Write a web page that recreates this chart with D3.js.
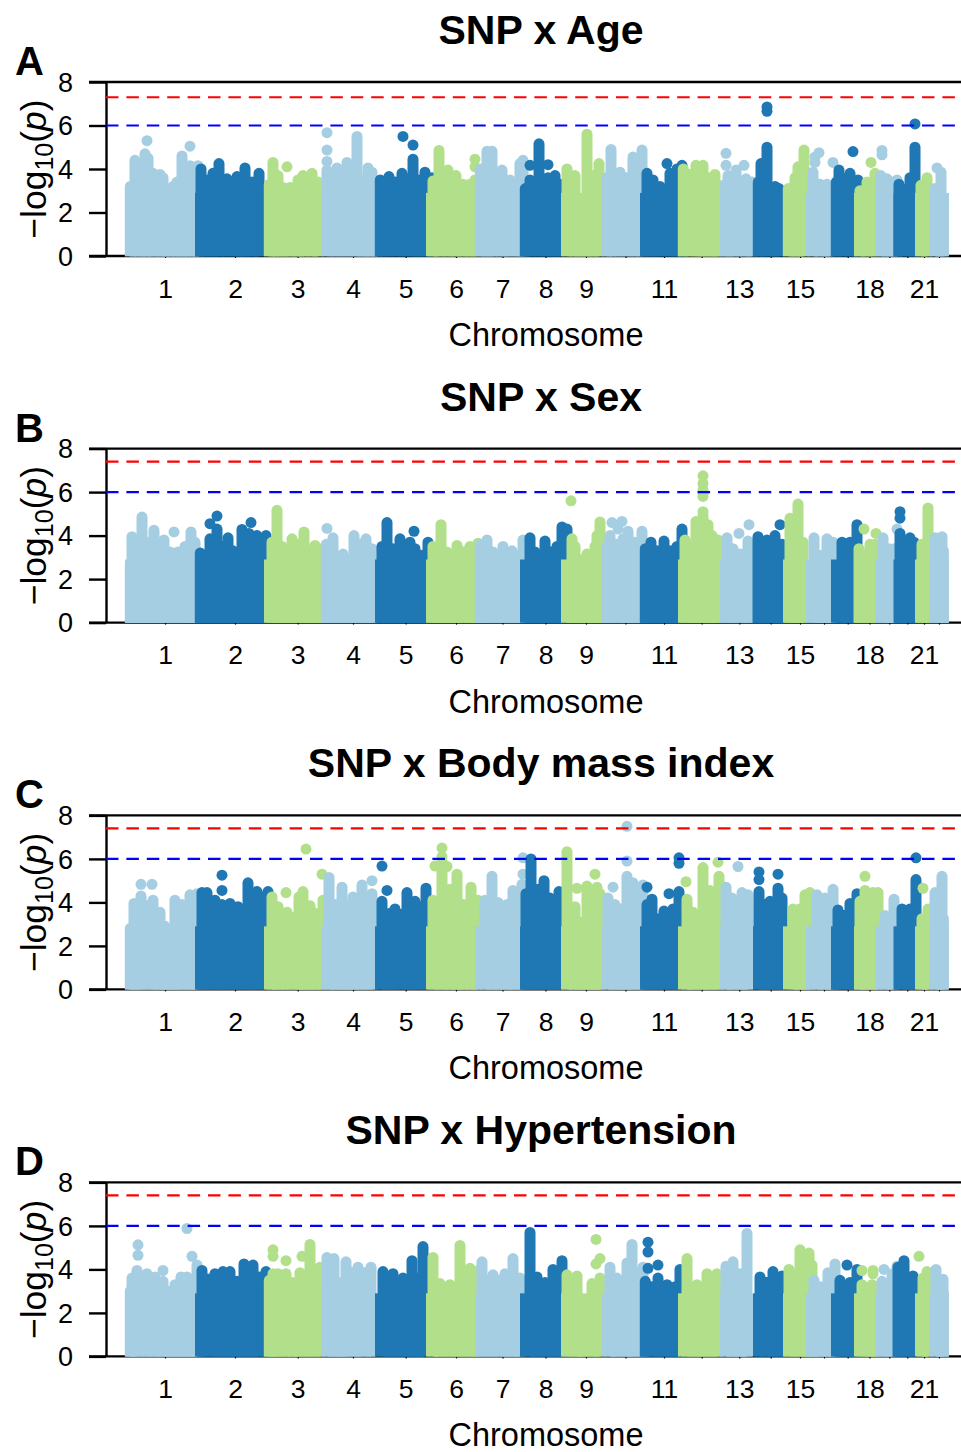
<!DOCTYPE html>
<html><head><meta charset="utf-8">
<script src="https://cdn.jsdelivr.net/npm/d3@7"></script>
<style>html,body{margin:0;padding:0;background:#fff}svg{display:block}text{font-family:"Liberation Sans",Arial,sans-serif;fill:#000}</style>
</head><body><div id="c"></div>
<script>
const titles=["SNP x Age","SNP x Sex","SNP x Body mass index","SNP x Hypertension"];
const letters=["A","B","C","D"];
const yTicks=[0,2,4,6,8];
const redLine=[7.3,7.4,7.4,7.4];
const blueLine=[6,6,6,6];
const chromStart=[0,70,139,196,250,301,350,395,436,476.5,515,553,595,628,658,681,706,729,750.5,768.5,790,804];
const chromEnd=824;
const chromShoulder=2.9;
const chromMid=[40,110,172.7,228,280.7,331,377.5,420.5,461,500.5,539,576.7,614.3,645.7,675,699,722.7,744.5,764.3,782.3,799,814];
const chromLabels=["1","2","3","4","5","6","7","8","9","","11","","13","","15","","","18","","","21",""];

const ageStems=[
[[5.3,3.2],[10,4.4],[15,3.8],[20,4.7],[23,4.5],[28,3.8],[35,3.75],[38,3.6],[43,2.9],[48,3.2],[52,3.4],[57,4.6],[60,3.8],[65,4.15],[69,3.9],[73,4.15]],
[[76,4.0],[82,3.5],[88,3.8],[94,4.25],[102,3.55],[112,3.65],[116,3.3],[120,4.05],[127,3.4],[134,3.8]],
[[144.3,3.3],[148,4.3],[153,3.7],[158,3.15],[165,3.15],[173,3.5],[178,3.7],[187,3.8],[193,3.4]],
[[202,3.95],[212,4.05],[222,4.3],[232,5.5],[238,3.5],[243,4.05],[247,3.85],[252,3.25]],
[[255.3,3.5],[264,3.65],[277,3.8],[288,4.45],[295,3.5],[300,3.85],[307,3.6]],
[[308,3.45],[314,4.85],[323,3.95],[331,3.7],[338,3.3],[345,3.3],[350,3.5]],
[[355.3,4.0],[362,4.82],[367,4.82],[377,3.95],[385,3.5],[395,4.25],[398,4.4]],
[[400.3,3.1],[405,3.5],[414,5.16],[423,3.6],[430,3.7],[435,3.3]],
[[442,4.0],[450,3.7],[455,2.55],[462,5.6],[468,3.7],[474,4.25]],
[[481.8,3.6],[486,4.9],[495,3.85],[508,4.55],[517,4.87]],
[[522,3.8],[528,3.5],[535,3.2],[545,3.8],[552,4.0],[557,4.17]],
[[558.3,4.0],[571,4.17],[578,4.17],[583,3.6],[590,3.75],[593,3.25]],
[[600.3,3.3],[603,3.7],[611,3.95],[621,3.55],[627,3.4]],
[[633.3,3.4],[636,4.25],[642,5.0],[650,3.2],[654,3.1]],
[[663.3,3.1],[670,3.6],[673,4.1],[679,4.87]],
[[688,3.85],[695,3.3],[702,3.3],[705,3.2]],
[[711.3,3.4],[714,3.95],[725,3.8],[733,3.5]],
[[735,3.0],[742,3.4],[750,3.8]],
[[755.8,3.7],[762,3.55],[767,3.4],[772,3.5]],
[[774,3.3],[785,3.6],[790,5.0]],
[[796,3.25],[802,3.6]],
[[810,3.1],[816,3.85],[818.4,2.4]]];
const ageDots=[[1,22,5.3],[1,65,5.05],[3,162,4.1],[4,202,5.67],[4,202,4.87],[4,202,4.35],[5,278,5.5],[5,288,5.1],[6,350,4.45],[6,350,4.1],[8,405,4.17],[8,423,4.2],[11,542,4.25],[13,601,4.72],[13,601,4.17],[13,619,4.17],[14,642,6.65],[14,642,6.85],[16,690,4.55],[16,694,4.75],[16,690,4.3],[16,708,4.3],[17,728,4.8],[18,746,4.3],[19,757,4.85],[19,757,4.65],[20,790,6.07],[22,812,4.05]];

const sexStems=[
[[5.3,2.7],[7,3.95],[12,3.5],[17,4.85],[22,3.7],[29,4.25],[34,3.7],[39,3.8],[45,3.25],[53,3.25],[60,3.5],[66,4.17],[70,3.7]],
[[75.3,3.2],[85,3.85],[92,4.3],[97,3.5],[103,3.9],[108,3.3],[117,4.28],[124,4.1],[132,4.0],[141,4.0]],
[[147,3.7],[152,5.16],[157,3.5],[167,3.85],[179,4.17],[190,3.55],[197,3.4]],
[[201.3,3.6],[208,3.9],[218,3.15],[229,4.0],[241,3.85],[247,3.4]],
[[257,3.5],[262,4.6],[268,3.4],[275,3.85],[285,3.7],[290,3.4],[297,3.1],[303,3.7]],
[[308,3.5],[316,4.5],[322,3.25],[332,3.55],[345,3.5],[353,3.65]],
[[355.3,3.6],[362,3.8],[368,3.25],[378,3.5],[387,3.3],[398,3.8]],
[[405,3.9],[410,3.25],[420,3.75],[432,3.5],[437,4.4],[442,4.3]],
[[447,3.85],[450,3.5],[455,2.9],[462,3.15],[470,3.5],[472,4.0],[475,4.63]],
[[481.8,3.5],[485,4.0],[498,3.85],[503,4.2],[510,3.7],[517,4.2]],
[[520.3,3.4],[526,3.7],[532,3.3],[539,3.75],[546,3.3],[552,3.5],[557,4.3]],
[[560,3.8],[571,4.65],[578,4.9],[583,4.5],[587,4.0],[593,3.8]],
[[602,3.9],[608,3.4],[623,3.75]],
[[633,3.95],[642,3.8],[650,4.0],[657,3.6]],
[[665,4.8],[673,5.45],[678,3.7]],
[[689,3.9],[695,3.1],[702,3.85],[708,3.7]],
[[717,3.7],[725,3.7],[732,4.5]],
[[734,3.4],[745,3.6],[750,3.6]],
[[758,3.9],[764,3.4],[769,3.4]],
[[775,4.1],[785,3.9],[789,3.7]],
[[797,3.6],[803,5.27]],
[[810,3.9],[817,3.95],[818.4,3.3]]];
const sexDots=[[1,49,4.17],[2,85,4.55],[2,92,4.9],[2,126,4.6],[4,202,4.33],[5,289,4.2],[9,446,5.6],[10,487,4.6],[10,497,4.65],[10,493,4.3],[12,578,5.1],[12,578,5.8],[12,578,5.95],[12,578,6.1],[12,578,6.4],[12,578,6.75],[13,614,4.1],[13,624,4.5],[14,655,4.5],[18,739,4.3],[18,751,4.1],[19,772,4.3],[20,775,5.1],[20,775,4.8]];

const bmiStems=[
[[5.3,2.8],[9,3.95],[16,4.3],[28,4.1],[35,3.55],[40,2.9],[45,2.55],[50,4.1],[57,3.9],[65,4.35],[72,4.4]],
[[77,4.45],[82,4.45],[90,4.1],[97,3.9],[105,3.95],[113,3.8],[123,4.9],[132,4.5],[143,4.5]],
[[147,4.25],[153,3.8],[162,3.55],[174,4.25],[178,4.5],[185,3.85],[190,3.5],[198,4.1]],
[[204,5.15],[210,3.9],[217,4.7],[222,3.9],[228,4.25],[237,4.8],[247,4.4]],
[[257,4.05],[265,3.5],[270,3.7],[282,4.45],[290,4.05],[301,4.65]],
[[308,4.1],[317,5.9],[325,4.6],[332,5.3],[338,3.9],[346,4.7],[353,4.1]],
[[360,4.1],[367,5.2],[373,4.0],[382,3.9],[388,4.55],[397,4.83]],
[[401,4.4],[406,6.0],[413,4.6],[419,5.0],[425,4.2],[430,4.1],[434,4.5]],
[[442,6.33],[450,3.8],[455,3.1],[462,4.75],[467,4.2],[472,4.7],[475,4.4]],
[[483,4.2],[490,3.9],[496,3.7],[502,5.2],[508,4.9],[518,4.8]],
[[522,3.9],[527,4.15],[533,3.25],[539,3.6],[548,3.7],[554,4.5]],
[[562,4.15],[568,3.55],[578,5.6],[585,4.55],[594,5.2]],
[[601,4.7],[607,4.2],[617,4.45],[623,4.35]],
[[634,4.5],[640,3.9],[645,4.05],[653,4.65],[657,4.2]],
[[668,3.7],[675,3.7],[680,4.35],[685,4.45]],
[[692,4.35],[700,4.2],[708,4.6]],
[[713,3.65],[725,3.95],[732,4.4]],
[[735,4.05],[740,4.55],[748,4.45],[753,4.45]],
[[760,3.4],[769,4.15]],
[[777,3.7],[785,3.7],[791,5.05]],
[[797,3.25],[803,3.7]],
[[810,4.45],[817,5.2],[818.4,3.25]]];
const bmiDots=[[1,16,4.83],[1,27,4.83],[2,97,5.25],[2,97,4.55],[3,161,4.45],[3,181,6.45],[3,197,5.3],[4,247,5.0],[5,257,5.67],[5,262,4.55],[6,310,5.67],[6,322,5.65],[6,317,6.5],[6,317,6.1],[7,398,6.05],[7,398,5.3],[9,452,4.65],[9,470,5.3],[10,488,4.7],[10,502,7.5],[10,502,5.9],[11,522,4.7],[11,544,4.4],[11,554,6.05],[11,554,5.8],[12,561,4.95],[12,593,5.85],[13,613,5.65],[14,634,5.4],[14,634,5.05],[14,653,5.3],[18,740,5.2],[20,791,6.05],[21,798,4.65]];

const hypStems=[
[[5.3,3.0],[7,3.6],[12,3.95],[22,3.8],[30,3.65],[38,3.45],[45,3.0],[50,3.3],[56,3.65],[62,3.65],[67,3.5],[72,4.2]],
[[77,3.95],[90,3.8],[98,3.9],[105,3.9],[112,3.45],[119,4.25],[128,4.2],[141,3.9]],
[[144.3,3.5],[148,3.8],[153,3.8],[161,3.8],[168,3.4],[175,3.85],[185,5.15],[195,4.1]],
[[202,4.55],[209,4.5],[215,3.4],[221,4.35],[233,4.1],[246,4.1]],
[[258,3.9],[268,3.8],[278,3.6],[287,4.4],[293,3.6],[298,5.05]],
[[308,4.55],[315,3.35],[325,3.3],[335,5.1],[345,4.05],[353,3.95]],
[[357,4.35],[368,3.75],[380,3.8],[388,4.5],[395,3.6]],
[[405,5.7],[412,3.65],[420,3.4],[428,4.0],[437,4.4]],
[[442,3.75],[452,3.7],[457,2.6],[467,3.35],[475,3.6]],
[[485,4.1],[492,3.6],[502,4.3],[507,5.15],[518,4.1]],
[[520.3,3.45],[533,3.6],[542,3.3],[550,3.2],[555,4.0]],
[[562,4.5],[572,3.3],[582,3.8],[592,3.8]],
[[601,4.15],[608,4.35],[615,3.8],[622,5.65]],
[[635,3.65],[648,3.9],[657,3.7]],
[[664,4.0],[675,4.9],[684,4.75],[687,4.2]],
[[689,3.5],[696,3.2],[703,3.85],[710,4.25]],
[[715,3.5],[725,3.4],[732,4.0]],
[[737,3.3],[747,3.3],[751,3.2]],
[[757,3.45],[767,3.8]],
[[773,4.1],[779,4.4],[788,3.7]],
[[798,3.6],[802,3.9]],
[[811,4.0],[818,3.55],[818.4,2.9]]];
const hypDots=[[1,13,5.13],[1,13,4.65],[1,38,3.95],[1,62,5.88],[1,67,4.6],[3,148,4.9],[3,148,4.6],[3,161,4.4],[3,177,4.6],[9,471,5.38],[9,475,4.5],[9,471,4.25],[11,523,5.25],[11,523,4.8],[11,523,4.05],[11,533,4.2],[17,722,4.2],[18,737,3.95],[18,748,3.95],[18,748,3.8],[19,759,4.0],[19,772,4.15],[21,794,4.6]];

const panelStems=[ageStems,sexStems,bmiStems,hypStems];
const panelDots=[ageDots,sexDots,bmiDots,hypDots];
const colours=["#A6CEE3","#1F78B4","#B2DF8A"];

const W=961,H=1452,R=5.5;
const baseY=[256,622.6,989.4,1356.4],plotH=174;
const spineX=106,tickLen=17;
const svg=d3.select("#c").append("svg").attr("width",W).attr("height",H).attr("viewBox",`0 0 ${W} ${H}`);
const x=d3.scaleLinear().domain([0,824]).range([125,949]);

titles.forEach((t,i)=>{
  const y0=baseY[i],top=y0-plotH;
  const y=d3.scaleLinear().domain([0,8]).range([y0,top]);
  const g=svg.append("g");
  g.append("text").attr("x",541).attr("y",y0-212).attr("text-anchor","middle").attr("font-weight","bold").attr("font-size",41).text(t);
  g.append("text").attr("x",15).attr("y",y0-181).attr("font-weight","bold").attr("font-size",40).text(letters[i]);
  [top,y0].forEach(v=>g.append("line").attr("x1",spineX-tickLen).attr("x2",W).attr("y1",v).attr("y2",v).attr("stroke","#000").attr("stroke-width",2.4));
  const ya=g.append("g").attr("transform",`translate(${spineX},0)`).call(d3.axisLeft(y).tickValues(yTicks).tickSize(tickLen).tickSizeOuter(0).tickPadding(16));
  ya.select(".domain").attr("stroke-width",2.4);
  ya.selectAll(".tick line").attr("stroke-width",2.4);
  ya.selectAll("text").attr("font-size",27).attr("font-family",'"Liberation Sans"').attr("dy","0.34em");
  const xa=g.append("g").attr("transform",`translate(0,${y0})`).call(d3.axisBottom(x).tickValues(chromMid).tickFormat((d,k)=>chromLabels[k]).tickSize(2).tickSizeOuter(0).tickPadding(21));
  xa.select(".domain").remove();
  xa.selectAll(".tick line").attr("stroke-width",1.2);
  xa.selectAll("text").attr("font-size",26.5).attr("font-family",'"Liberation Sans"');
  g.append("text").attr("x",546).attr("y",y0+90).attr("text-anchor","middle").attr("font-size",32.5).text("Chromosome");
  const yl=g.append("text").attr("transform",`translate(46,${y0-87}) rotate(-90)`).attr("text-anchor","middle").attr("font-size",35.5);
  yl.append("tspan").text("\u2212log");
  yl.append("tspan").attr("font-size",25).attr("dy",7).text("10");
  yl.append("tspan").attr("dy",-7).text("(");
  yl.append("tspan").attr("font-style","italic").text("p");
  yl.append("tspan").text(")");
  const clipId="clip"+i;
  svg.append("clipPath").attr("id",clipId).append("rect").attr("x",0).attr("y",top-10).attr("width",W).attr("height",plotH+10.2);
  const m=g.append("g").attr("clip-path",`url(#${clipId})`);
  panelStems[i].forEach((stems,c)=>{
    const col=colours[c%3];
    const cg=m.append("g");
    const from=chromStart[c],to=c<21?chromStart[c+1]:chromEnd;
    // lower solid body of the chromosome, between its edges
    cg.append("rect").attr("class","body").attr("x",x(from)).attr("width",x(to)-x(from))
      .attr("y",y(chromShoulder)).attr("height",y0+2-y(chromShoulder)).attr("fill",col);
    cg.selectAll("rect.gap").data(d3.pairs(stems)).join("rect").attr("class","gap")
      .attr("x",d=>x(d[0][0])).attr("width",d=>x(d[1][0])-x(d[0][0])+.5)
      .attr("y",d=>y(Math.min(d[0][1],d[1][1]))).attr("height",d=>y0+2-y(Math.min(d[0][1],d[1][1])))
      .attr("fill",col);
    cg.selectAll("line").data(stems).join("line")
      .attr("x1",d=>x(d[0])).attr("x2",d=>x(d[0])).attr("y1",y0+8).attr("y2",d=>y(d[1]))
      .attr("stroke",col).attr("stroke-width",2*R).attr("stroke-linecap","round");
    cg.selectAll("circle").data(panelDots[i].filter(d=>d[0]===c+1)).join("circle")
      .attr("cx",d=>x(d[1])).attr("cy",d=>y(d[2])).attr("r",R).attr("fill",col);
  });
  [[redLine[i],"#ff0000"],[blueLine[i],"#0000ff"]].forEach(([v,col])=>{
    g.append("line").attr("x1",spineX).attr("x2",W).attr("y1",y(v)).attr("y2",y(v))
      .attr("stroke",col).attr("stroke-width",2.2).attr("stroke-dasharray","12.5 7.9");
  });
});
</script></body></html>
